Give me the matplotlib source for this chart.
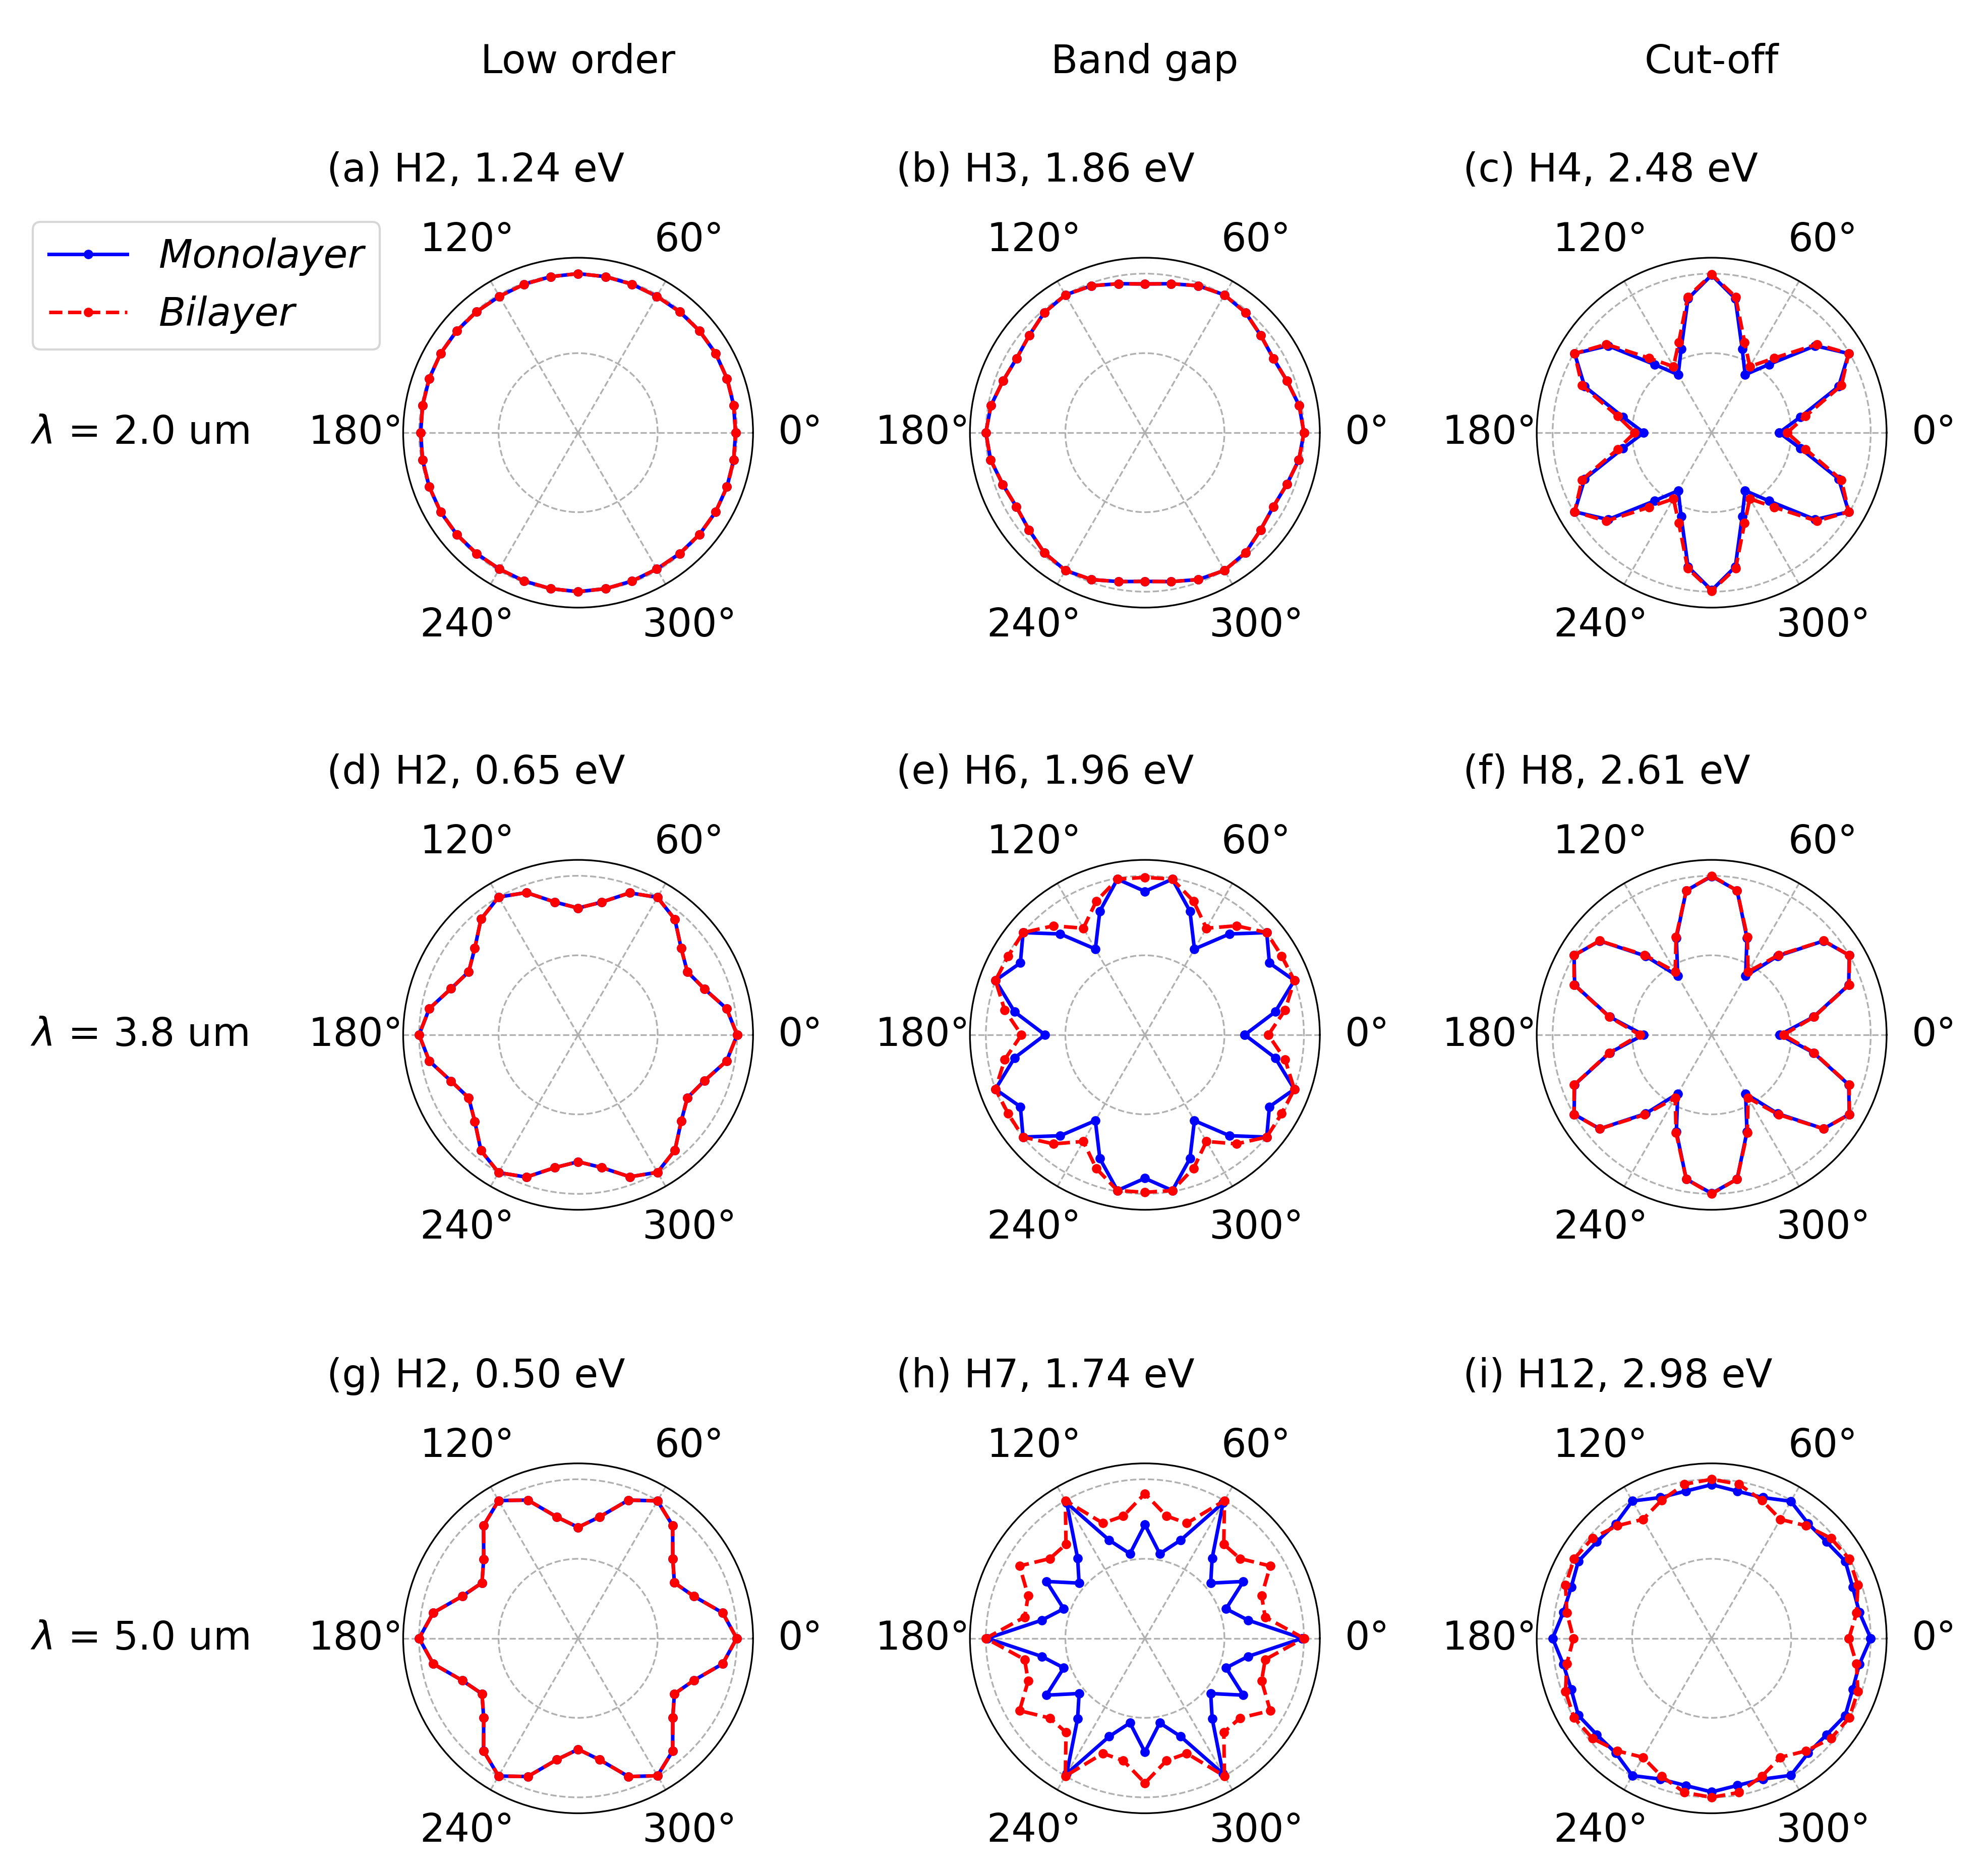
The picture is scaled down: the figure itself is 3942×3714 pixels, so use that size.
import numpy as np
import matplotlib
matplotlib.use("Agg")
import matplotlib.pyplot as plt

plt.rcParams['font.size'] = 18.7

# polarisation angle of the laser, degrees (one point every 10 deg)
angles_deg = list(range(0, 360, 10))

col_titles = ["Low order", "Band gap", "Cut-off"]
row_titles = [r"$\lambda$ = 2.0 um", r"$\lambda$ = 3.8 um", r"$\lambda$ = 5.0 um"]
panel_titles = ["(a) H2, 1.24 eV", "(b) H3, 1.86 eV", "(c) H4, 2.48 eV",
                "(d) H2, 0.65 eV", "(e) H6, 1.96 eV", "(f) H8, 2.61 eV",
                "(g) H2, 0.50 eV", "(h) H7, 1.74 eV", "(i) H12, 2.98 eV"]

# normalised harmonic yield
a_mono = [0.990, 0.993, 0.996, 0.998, 0.996, 0.993,
          0.990, 0.993, 0.996, 1.000, 0.996, 0.993,
          0.990, 0.993, 0.996, 0.998, 0.996, 0.993,
          0.990, 0.993, 0.996, 0.998, 0.996, 0.993,
          0.990, 0.993, 0.996, 1.000, 0.996, 0.993,
          0.990, 0.993, 0.996, 0.998, 0.996, 0.993]
a_bi = a_mono

b_mono = [1.000, 0.985, 0.951, 0.933, 0.951, 0.985,
          1.000, 0.983, 0.951, 0.935, 0.951, 0.983,
          1.000, 0.985, 0.950, 0.932, 0.950, 0.983,
          1.000, 0.985, 0.951, 0.933, 0.951, 0.985,
          1.000, 0.983, 0.951, 0.935, 0.951, 0.983,
          1.000, 0.985, 0.950, 0.932, 0.950, 0.983]
b_bi = b_mono

c_mono = [0.425, 0.566, 0.850, 0.995, 0.850, 0.560,
          0.421, 0.561, 0.856, 0.991, 0.856, 0.561,
          0.421, 0.560, 0.850, 0.995, 0.850, 0.566,
          0.427, 0.566, 0.850, 0.995, 0.850, 0.560,
          0.421, 0.561, 0.856, 0.991, 0.856, 0.561,
          0.421, 0.560, 0.850, 0.995, 0.850, 0.566]
c_bi = [0.475, 0.600, 0.868, 0.995, 0.865, 0.612,
        0.480, 0.605, 0.867, 0.995, 0.867, 0.605,
        0.480, 0.612, 0.865, 0.995, 0.868, 0.600,
        0.484, 0.600, 0.868, 0.995, 0.865, 0.612,
        0.480, 0.605, 0.867, 0.995, 0.867, 0.605,
        0.480, 0.612, 0.865, 0.995, 0.868, 0.600]

d_mono = [1.000, 0.948, 0.845, 0.793, 0.846, 0.947,
          0.998, 0.950, 0.847, 0.797, 0.848, 0.952,
          1.000, 0.950, 0.848, 0.794, 0.850, 0.950,
          1.000, 0.950, 0.850, 0.794, 0.848, 0.950,
          1.000, 0.952, 0.848, 0.798, 0.847, 0.950,
          0.998, 0.947, 0.846, 0.793, 0.845, 0.948]
d_bi = d_mono

e_mono = [0.628, 0.832, 1.000, 0.904, 1.000, 0.828,
          0.623, 0.828, 0.994, 0.902, 0.994, 0.828,
          0.623, 0.828, 1.000, 0.904, 1.000, 0.832,
          0.628, 0.832, 1.000, 0.904, 1.000, 0.828,
          0.623, 0.828, 0.994, 0.902, 0.994, 0.828,
          0.623, 0.828, 1.000, 0.904, 1.000, 0.832]
e_bi = [0.776, 0.895, 1.000, 0.992, 1.000, 0.895,
        0.774, 0.894, 0.994, 0.990, 0.994, 0.894,
        0.774, 0.895, 1.000, 0.992, 1.000, 0.895,
        0.776, 0.895, 1.000, 0.992, 1.000, 0.895,
        0.774, 0.894, 0.994, 0.990, 0.994, 0.894,
        0.774, 0.895, 1.000, 0.992, 1.000, 0.895]

f_mono = [0.429, 0.651, 0.917, 0.999, 0.919, 0.647,
          0.427, 0.649, 0.921, 0.997, 0.921, 0.649,
          0.427, 0.647, 0.919, 0.999, 0.917, 0.651,
          0.429, 0.651, 0.917, 0.999, 0.919, 0.647,
          0.427, 0.649, 0.921, 0.997, 0.921, 0.649,
          0.427, 0.647, 0.919, 0.999, 0.917, 0.651]
f_bi = [0.452, 0.655, 0.920, 1.000, 0.920, 0.655,
        0.458, 0.655, 0.921, 1.000, 0.921, 0.655,
        0.458, 0.655, 0.920, 1.000, 0.920, 0.655,
        0.452, 0.655, 0.920, 1.000, 0.920, 0.655,
        0.458, 0.655, 0.921, 1.000, 0.921, 0.655,
        0.458, 0.655, 0.920, 1.000, 0.920, 0.655]

g_mono = [0.997, 0.923, 0.774, 0.699, 0.777, 0.925,
          0.998, 0.925, 0.775, 0.698, 0.775, 0.925,
          1.000, 0.925, 0.775, 0.698, 0.775, 0.925,
          1.000, 0.925, 0.775, 0.698, 0.775, 0.925,
          1.000, 0.925, 0.775, 0.698, 0.775, 0.925,
          0.998, 0.925, 0.777, 0.699, 0.774, 0.923]
g_bi = g_mono

h_mono = [0.990, 0.658, 0.543, 0.715, 0.540, 0.658,
          0.983, 0.657, 0.540, 0.715, 0.540, 0.657,
          0.983, 0.658, 0.540, 0.715, 0.543, 0.658,
          0.990, 0.658, 0.543, 0.715, 0.540, 0.658,
          0.983, 0.657, 0.540, 0.715, 0.540, 0.657,
          0.983, 0.658, 0.540, 0.715, 0.543, 0.658]
h_bi = [1.000, 0.768, 0.781, 0.910, 0.780, 0.772,
        1.000, 0.770, 0.781, 0.910, 0.781, 0.770,
        1.000, 0.772, 0.780, 0.910, 0.781, 0.768,
        1.000, 0.768, 0.781, 0.910, 0.780, 0.772,
        1.000, 0.770, 0.781, 0.910, 0.781, 0.770,
        1.000, 0.772, 0.780, 0.910, 0.781, 0.768]

i_mono = [1.000, 0.943, 0.943, 0.970, 0.943, 0.943,
          0.995, 0.942, 0.939, 0.966, 0.940, 0.942,
          0.997, 0.940, 0.943, 0.968, 0.940, 0.947,
          1.000, 0.947, 0.940, 0.968, 0.943, 0.940,
          0.997, 0.942, 0.940, 0.966, 0.939, 0.942,
          0.995, 0.943, 0.943, 0.970, 0.943, 0.943]
i_bi = [0.863, 0.925, 0.978, 0.999, 0.979, 0.924,
        0.864, 0.923, 0.984, 1.000, 0.984, 0.923,
        0.864, 0.924, 0.979, 0.999, 0.978, 0.925,
        0.869, 0.925, 0.978, 0.999, 0.979, 0.924,
        0.864, 0.923, 0.984, 1.000, 0.984, 0.923,
        0.864, 0.924, 0.979, 0.999, 0.978, 0.925]

mono_all = [a_mono, b_mono, c_mono, d_mono, e_mono, f_mono, g_mono, h_mono, i_mono]
bi_all = [a_bi, b_bi, c_bi, d_bi, e_bi, f_bi, g_bi, h_bi, i_bi]

fig = plt.figure(figsize=(13.14, 12.38), dpi=300)

col_x = [0.2908, 0.5759, 0.861]
row_y = [0.769, 0.4475, 0.1253]
title_x = [0.1645, 0.4509, 0.736]
title_y = [0.909, 0.5874, 0.2651]
w, h = 0.176, 0.1869

theta = np.deg2rad(angles_deg + [angles_deg[0]])

for k in range(9):
    r, c = divmod(k, 3)
    ax = fig.add_axes([col_x[c] - w / 2, row_y[r] - h / 2, w, h], projection='polar')
    mono = mono_all[k] + [mono_all[k][0]]
    bi = bi_all[k] + [bi_all[k][0]]
    ax.plot(theta, mono, '-', color='blue', marker='.', ms=7, lw=1.7, label='Monolayer')
    ax.plot(theta, bi, '--', color='red', marker='.', ms=7, lw=1.7, label='Bilayer')
    ax.set_ylim(0, 1.1)
    ax.set_rticks([0.5, 1.0])
    ax.set_yticklabels([])
    ax.set_thetagrids(range(0, 360, 60))
    ax.grid(True, linestyle='--', color='#b0b0b0', lw=0.8)
    ax.tick_params(axis='x', pad=12)
    fig.text(title_x[c], title_y[r], panel_titles[k], ha='left', va='center')
    if k == 0:
        handles, labels = ax.get_legend_handles_labels()

for c in range(3):
    fig.text(col_x[c], 0.967, col_titles[c], ha='center', va='center')
for r in range(3):
    fig.text(0.0153, row_y[r], row_titles[r], ha='left', va='center')

fig.legend(handles, labels, loc='upper left', bbox_to_anchor=(0.0166, 0.8815),
           borderaxespad=0, prop={'style': 'italic', 'size': 18.7})

fig.savefig('out.png', dpi=300)
